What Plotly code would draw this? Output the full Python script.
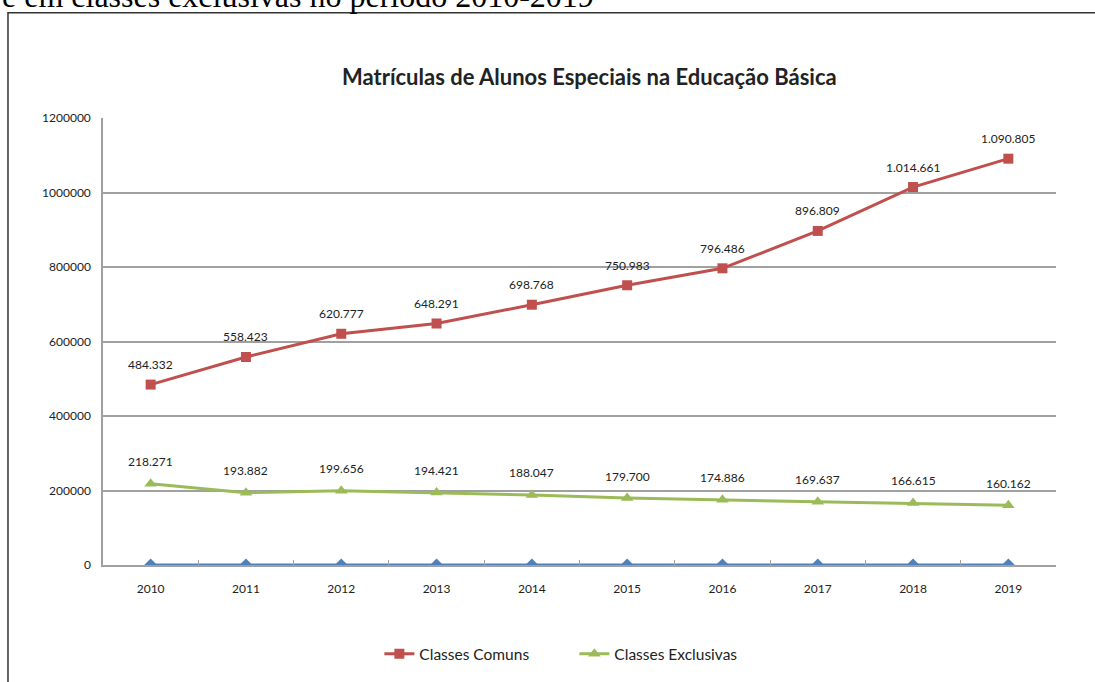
import plotly.graph_objects as go

anos = ["2010", "2011", "2012", "2013", "2014", "2015", "2016", "2017", "2018", "2019"]
classes_comuns = [484332, 558423, 620777, 648291, 698768, 750983, 796486, 896809, 1014661, 1090805]
classes_exclusivas = [218271, 193882, 199656, 194421, 188047, 179700, 174886, 169637, 166615, 160162]
serie_zero = [0, 0, 0, 0, 0, 0, 0, 0, 0, 0]
y_ticks = [0, 200000, 400000, 600000, 800000, 1000000, 1200000]

RED = "#c0504d"
GREEN = "#9bbb59"
BLUE = "#4f81bd"
FONT = "Lato"


def br(v):
    return f"{v:,}".replace(",", ".")


fig = go.Figure()
fig.add_trace(go.Scatter(x=anos, y=serie_zero, mode="lines+markers", showlegend=False,
                         line=dict(color=BLUE, width=3),
                         marker=dict(symbol="diamond", size=10, color=BLUE)))
fig.add_trace(go.Scatter(x=anos, y=classes_comuns, mode="lines+markers", name="Classes Comuns",
                         line=dict(color=RED, width=3),
                         marker=dict(symbol="square", size=10, color=RED)))
fig.add_trace(go.Scatter(x=anos, y=classes_exclusivas, mode="lines+markers", name="Classes Exclusivas",
                         line=dict(color=GREEN, width=3),
                         marker=dict(symbol="triangle-up", size=11, color=GREEN)))

# rótulos de dados (x como índice da categoria)
for i, v in enumerate(classes_comuns):
    fig.add_annotation(x=i, y=v, text=br(v), showarrow=False, yshift=20,
                       font=dict(family=FONT, size=12, color="#222"))
for i, v in enumerate(classes_exclusivas):
    fig.add_annotation(x=i, y=v, text=br(v), showarrow=False, yshift=22,
                       font=dict(family=FONT, size=12, color="#222"))

# título
fig.add_annotation(xref="paper", yref="paper", x=0.511, y=1.0, yanchor="middle", yshift=42,
                   text="<b>Matrículas de Alunos Especiais na Educação Básica</b>",
                   showarrow=False, font=dict(family=FONT, size=22, color="#222"))

# texto cortado no topo (como na imagem original)
fig.add_annotation(xref="paper", yref="paper", x=-0.108, xanchor="left", y=1.0, yanchor="bottom", yshift=102,
                   text="e em classes exclusivas no período 2010-2019", showarrow=False,
                   font=dict(family="Liberation Serif", size=32, color="#000"))

# moldura
fig.add_shape(type="rect", xref="paper", yref="paper", x0=-0.0997, x1=1.2, y0=-0.5, y1=1.2355,
              line=dict(color="#333", width=1.5), layer="below")

fig.update_layout(
    width=1095, height=682,
    margin=dict(l=103, r=39, t=118, b=116),
    paper_bgcolor="white", plot_bgcolor="white",
    font=dict(family=FONT, size=12, color="#222"),
    showlegend=True,
    legend=dict(orientation="h", x=0.29, xanchor="left", y=-0.197, yanchor="middle",
                font=dict(family=FONT, size=15.5, color="#222"), itemwidth=30,
                entrywidth=150, entrywidthmode="pixels"),
)
fig.update_xaxes(type="category", range=[-0.5, 9.5], showline=True, linecolor="#a0a0a0", linewidth=1.5,
                 ticks="inside", tickson="boundaries", ticklen=5, tickcolor="#a0a0a0",
                 showgrid=False, ticklabelstandoff=12, tickfont=dict(size=12, color="#222"))
fig.update_yaxes(range=[0, 1200000], tickvals=y_ticks, ticktext=[str(t) for t in y_ticks],
                 showline=True, linecolor="#a0a0a0", linewidth=1.5, gridcolor="#a0a0a0", gridwidth=1.5,
                 zeroline=False, ticks="", ticklabelstandoff=8, tickfont=dict(size=12, color="#222"))

fig.write_html("out.html", config={"displayModeBar": False},
               post_script="document.body.style.margin='0';")
